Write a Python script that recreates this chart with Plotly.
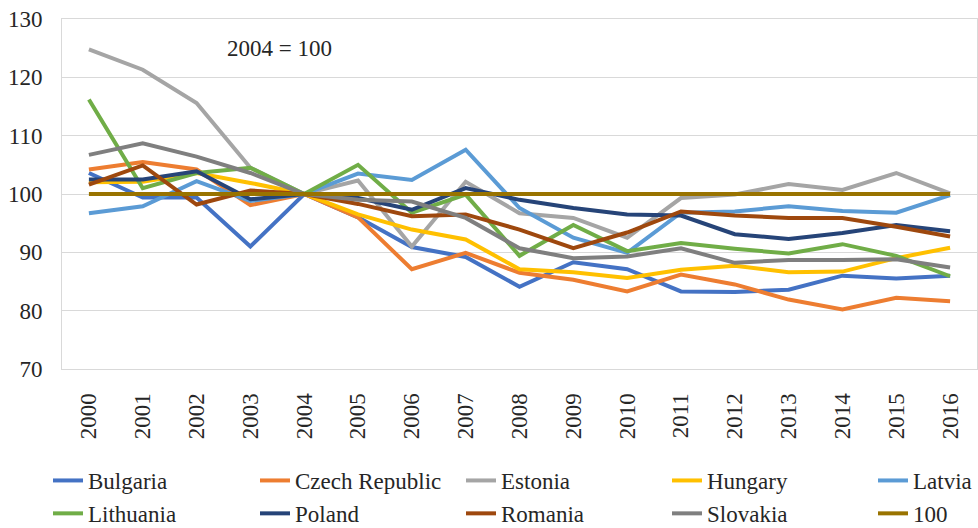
import plotly.graph_objects as go

years = [str(y) for y in range(2000, 2017)]

bulgaria = [103.6, 99.4, 99.4, 91.0, 100, 96.0, 90.9, 89.2, 84.1, 88.3, 87.1, 83.3, 83.2, 83.6, 86.0, 85.5, 86.0]
czech = [104.2, 105.5, 104.2, 98.1, 100, 96.0, 87.1, 89.9, 86.5, 85.3, 83.3, 86.2, 84.5, 81.9, 80.2, 82.2, 81.6]
estonia = [124.8, 121.3, 115.6, 104.5, 100, 102.3, 91.0, 102.1, 96.7, 95.9, 92.5, 99.3, 99.9, 101.7, 100.7, 103.6, 100.1]
hungary = [102.0, 102.1, 103.6, 101.9, 100, 96.5, 93.9, 92.2, 87.1, 86.6, 85.6, 87.0, 87.7, 86.6, 86.7, 89.0, 90.8]
latvia = [96.7, 97.9, 102.2, 98.8, 100, 103.5, 102.4, 107.6, 97.6, 92.5, 89.9, 96.8, 97.0, 97.9, 97.1, 96.8, 99.8]
lithuania = [116.2, 101.0, 103.6, 104.5, 100, 105.0, 96.8, 99.9, 89.4, 94.7, 90.2, 91.6, 90.6, 89.8, 91.4, 89.4, 85.9]
poland = [102.5, 102.5, 103.9, 99.1, 100, 99.3, 97.3, 101.0, 99.0, 97.6, 96.5, 96.3, 93.1, 92.3, 93.3, 94.7, 93.6]
romania = [101.6, 104.9, 98.2, 100.6, 100, 98.3, 96.2, 96.5, 93.9, 90.7, 93.4, 97.0, 96.3, 95.9, 95.9, 94.4, 92.7]
slovakia = [106.7, 108.7, 106.4, 103.6, 100, 99.0, 98.7, 95.9, 90.7, 89.0, 89.3, 90.7, 88.2, 88.7, 88.7, 88.8, 87.4]
base100 = [100] * 17

series = [
    ("Bulgaria", bulgaria, "#4472C4", "legend"),
    ("Czech Republic", czech, "#ED7D31", "legend2"),
    ("Estonia", estonia, "#A5A5A5", "legend3"),
    ("Hungary", hungary, "#FFC000", "legend4"),
    ("Latvia", latvia, "#5B9BD5", "legend5"),
    ("Lithuania", lithuania, "#70AD47", "legend"),
    ("Poland", poland, "#264478", "legend2"),
    ("Romania", romania, "#9E480E", "legend3"),
    ("Slovakia", slovakia, "#7F7F7F", "legend4"),
    ("100", base100, "#997300", "legend5"),
]

FONT = "Liberation Serif, Times New Roman, serif"
TXT = "#262626"
FS = 23

fig = go.Figure()
for name, vals, color, lg in series:
    fig.add_trace(go.Scatter(
        x=years, y=vals, name=name, mode="lines",
        line=dict(color=color, width=4),
        legend=lg, legendgroup=name,
    ))

legend_x = [48, 255, 461, 667, 873]
legend_top = 459
leg_common = dict(
    orientation="v", xref="container", yref="container",
    xanchor="left", yanchor="top", y=1 - legend_top / 528,
    font=dict(family=FONT, size=FS, color=TXT),
    bgcolor="rgba(0,0,0,0)", borderwidth=0, tracegroupgap=0,
)
legends = {}
for i, lx in enumerate(legend_x):
    key = "legend" if i == 0 else f"legend{i+1}"
    legends[key] = dict(leg_common, x=lx / 978)

fig.update_layout(
    width=978, height=528,
    margin=dict(l=62, r=1, t=19, b=159, autoexpand=False),
    paper_bgcolor="white", plot_bgcolor="white",
    font=dict(family=FONT, size=FS, color=TXT),
    showlegend=True,
    **legends,
    xaxis=dict(
        type="category", range=[-0.5, 16.5], tickangle=-90, showgrid=False,
        showline=True, linecolor="#D9D9D9", linewidth=1, mirror=True,
        ticks="", ticklabelstandoff=14,
        tickfont=dict(family=FONT, size=FS, color=TXT),
    ),
    yaxis=dict(
        range=[70, 130], dtick=10, tick0=70,
        showgrid=True, gridcolor="#D9D9D9", gridwidth=1,
        showline=True, linecolor="#D9D9D9", linewidth=1, mirror=True,
        zeroline=False, ticks="", ticklabelstandoff=14,
        tickfont=dict(family=FONT, size=FS, color=TXT),
    ),
    annotations=[dict(
        text="2004 = 100", xref="paper", yref="paper",
        x=(279 - 62) / 915, y=(369.3 - 49) / 350,
        xanchor="center", yanchor="middle", showarrow=False,
        font=dict(family=FONT, size=FS, color=TXT),
    )],
)

fig.write_html(
    "out.html",
    config={"displayModeBar": False},
    post_script="document.body.style.margin='0';document.body.style.overflow='hidden';",
)
